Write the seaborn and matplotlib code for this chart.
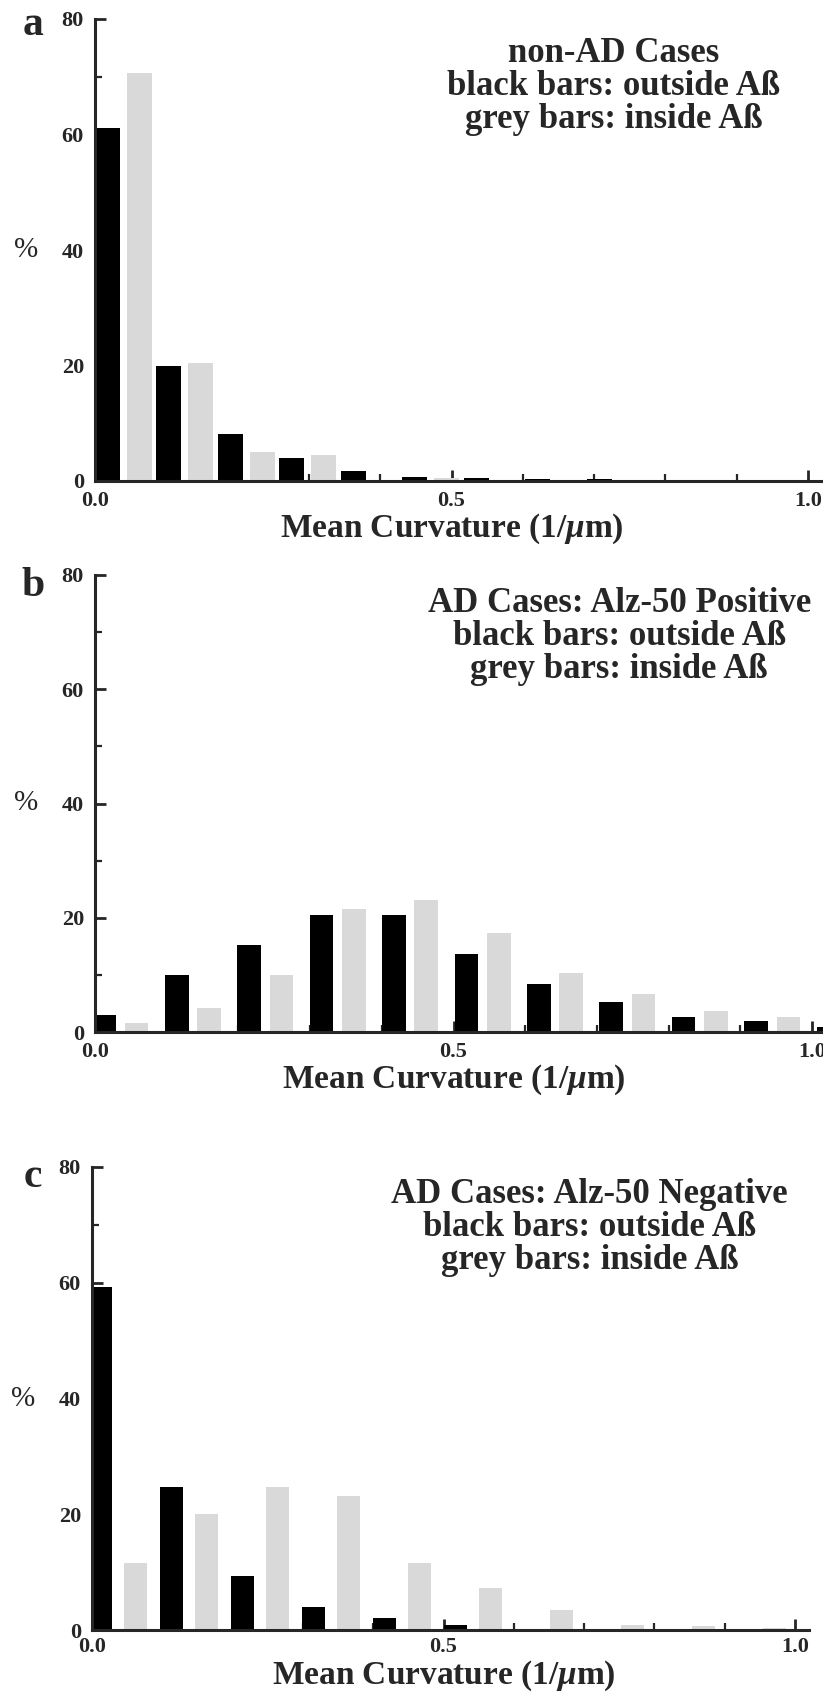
import numpy as np
import pandas as pd
import matplotlib.pyplot as plt
import seaborn as sns
from matplotlib.ticker import MultipleLocator

# percent of segments per mean-curvature bin
# black = outside Abeta, grey = inside Abeta
a_outside = [61.2, 19.9, 8.2, 4.0, 1.8, 0.7, 0.6, 0.3, 0.3, 0.2, 0.2, 0.2]
a_inside = [70.7, 20.4, 5.0, 4.5, 0.2, 0.5, 0.2, 0.1, 0.1, 0.1, 0.1, 0.1]

b_outside = [3.0, 10.0, 15.2, 20.4, 20.4, 13.7, 8.4, 5.2, 2.6, 2.0, 0.9]
b_inside = [1.6, 4.2, 10.0, 21.6, 23.1, 17.3, 10.4, 6.7, 3.6, 2.6]

c_outside = [59.3, 24.7, 9.3, 4.0, 2.0, 0.8, 0.2, 0.1, 0.1, 0.1]
c_inside = [11.5, 20.0, 24.7, 23.2, 11.5, 7.2, 3.4, 0.8, 0.7, 0.3]

letters = ["a", "b", "c"]
titles = ["non-AD Cases", "AD Cases: Alz-50 Positive", "AD Cases: Alz-50 Negative"]
legend_txt = "black bars: outside A\u00df\ngrey bars: inside A\u00df"
x_label = r"Mean Curvature (1/$\mu$m)"

sns.set_theme(style="ticks")
plt.rcParams["font.family"] = ["Liberation Serif", "DejaVu Serif"]
plt.rcParams["font.weight"] = "bold"
plt.rcParams["mathtext.fontset"] = "custom"
plt.rcParams["mathtext.rm"] = "Liberation Serif:bold"
plt.rcParams["mathtext.it"] = "Liberation Serif:italic:bold"

W, H = 823, 1693
fig = plt.figure(figsize=(W / 100, H / 100), dpi=100)

# layout per panel: axes box in pixels (x0, y of 80, px per x unit, y of 0),
# bin step, bar offsets and width, text anchor in data units, letter position,
# x label distance below the zero line (px), x tick label pad
panels = [
    dict(out=a_outside, ins=a_inside, box=(95, 19, 713, 481), step=0.0862,
         off_out=0.0175, off_in=0.062, bw=0.035, txt=(0.727, 68.3), let=(33, 25), xl=48, tp=7),
    dict(out=b_outside, ins=b_inside, box=(95, 575, 717, 1032), step=0.101,
         off_out=0.013, off_in=0.058, bw=0.033, txt=(0.731, 69.2), let=(33, 586), xl=48, tp=7),
    dict(out=c_outside, ins=c_inside, box=(92, 1167, 703, 1630), step=0.101,
         off_out=0.0125, off_in=0.062, bw=0.033, txt=(0.708, 69.6), let=(33, 1177), xl=46, tp=5),
]

for i, p in enumerate(panels):
    x0, ytop, xu, yzero = p["box"]
    xmax = 1.02
    ax_h = yzero - ytop
    ax = fig.add_axes([x0 / W, 1 - yzero / H, xu * xmax / W, ax_h / H])

    for vals, off, col in [(p["out"], p["off_out"], "black"), (p["ins"], p["off_in"], "#d9d9d9")]:
        k = np.arange(len(vals))
        df = pd.DataFrame({"x": k * p["step"] + off, "pct": vals})
        sns.barplot(data=df, x="x", y="pct", native_scale=True, orient="x",
                    width=p["bw"] / p["step"], color=col, saturation=1,
                    errorbar=None, linewidth=0, ax=ax)

    ax.set_xlim(0, xmax)
    ax.set_ylim(0, 80)
    sns.despine(ax=ax)
    for s in ["left", "bottom"]:
        ax.spines[s].set_linewidth(2.2)
    ax.set_xticks([0.0, 0.5, 1.0])
    ax.set_xticklabels(["0.0", "0.5", "1.0"])
    ax.xaxis.set_minor_locator(MultipleLocator(0.1))
    ax.set_yticks([0, 20, 40, 60, 80])
    ax.yaxis.set_minor_locator(MultipleLocator(10))
    ax.tick_params(which="major", direction="in", length=8, width=2, labelsize=16)
    ax.tick_params(axis="x", which="major", pad=p["tp"])
    ax.tick_params(axis="y", which="major", pad=8)
    ax.tick_params(which="minor", direction="in", length=5, width=1.6)
    for lab in ax.get_xticklabels() + ax.get_yticklabels():
        lab.set_fontweight("bold")

    ax.set_xlabel(x_label, fontsize=24, fontweight="bold")
    ax.xaxis.label.set_va("center")
    ax.xaxis.set_label_coords(0.49, -p["xl"] / ax_h)
    ax.set_ylabel("%", fontsize=21, fontweight="normal", rotation=0, va="center", ha="center")
    ax.yaxis.set_label_coords(-69 / (xu * xmax), 0.5)

    ax.text(p["txt"][0], p["txt"][1], titles[i] + "\n" + legend_txt, ha="center", va="center",
            multialignment="center", fontsize=25, fontweight="bold", linespacing=1.0)
    fig.text(p["let"][0] / W, 1 - p["let"][1] / H, letters[i], fontsize=30,
             fontweight="bold", ha="center", va="center")

fig.savefig("out.png", dpi=100)
